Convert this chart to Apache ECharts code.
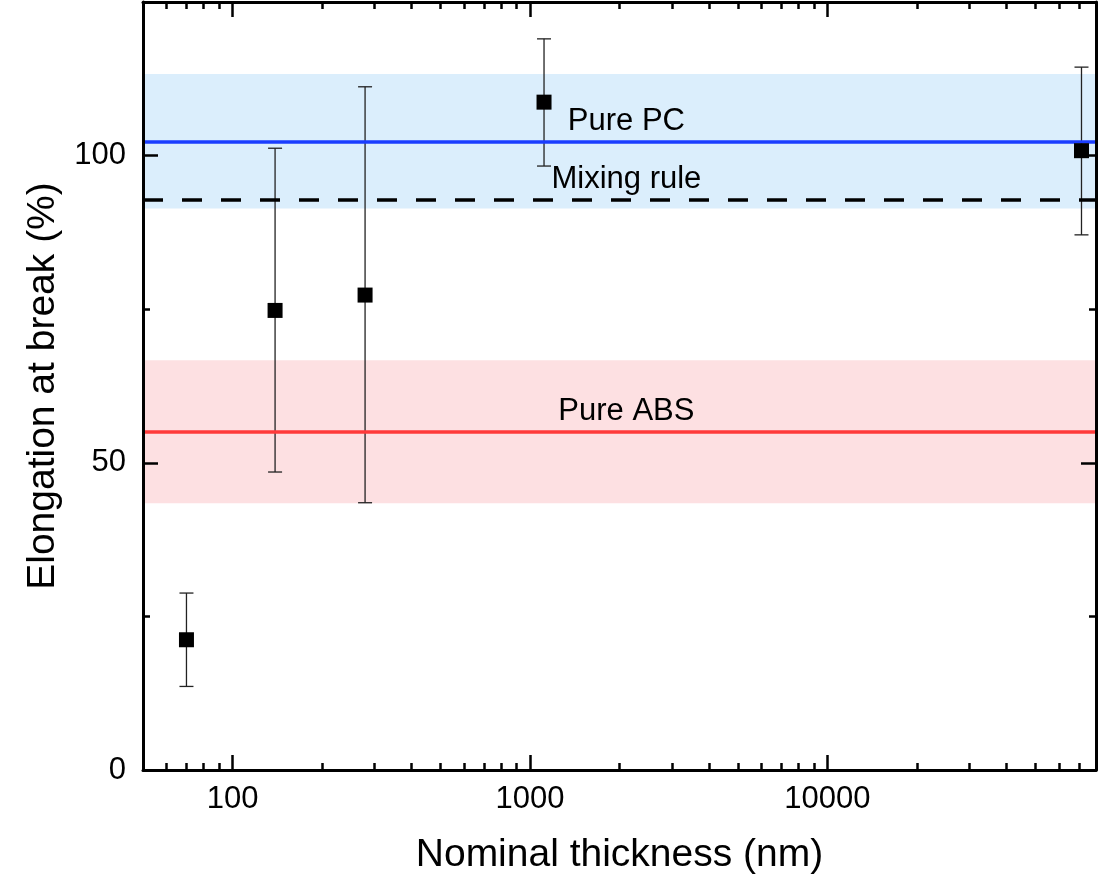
<!DOCTYPE html>
<html><head><meta charset="utf-8">
<script src="https://cdn.jsdelivr.net/npm/echarts@6/dist/echarts.min.js"></script>
<style>html,body{margin:0;padding:0;background:#fff}#c{width:1115px;height:887px}</style>
</head><body><div id="c"></div>
<script>
// ---- data ----
const thickness  = [70, 139, 279, 1115, 71500];       // nm
const elongation = [21.2, 74.8, 77.3, 108.7, 100.8];  // %
const errLow     = [13.6, 48.5, 43.5, 98.3, 87.1];
const errHigh    = [28.8, 101.2, 111.2, 119.0, 114.4];
const pcMean = 102.2;
const pcBand = [91.4, 113.3];
const absMean = 55.0;
const absBand = [43.4, 66.7];
const mixingRule = 92.8;
const annotationText = ['Pure PC', 'Mixing rule', 'Pure ABS'];
const annotationX    = [2110, 2110, 2110];
const annotationY    = [105.6, 96.1, 58.4];
const xRange = [50, 80000];
const yRange = [0, 125];
const xMajorTicks = [100, 1000, 10000];
const xMinorTicks = [60, 70, 80, 90, 200, 300, 400, 500, 600, 700, 800, 900,
                     2000, 3000, 4000, 5000, 6000, 7000, 8000, 9000,
                     20000, 30000, 40000, 50000, 60000, 70000];
const yMajorTicks = [0, 50, 100];
const yMinorTicks = [25, 75, 125];

// ---- styling ----
const FONT = '"Liberation Sans", Arial, Helvetica, sans-serif';
const lg = Math.log10;
const AX = {color: '#000', width: 3};

function xAxisDef(pos, ticks, len, main, labels) {
  return {
    type: 'value', position: pos, min: lg(xRange[0]), max: lg(xRange[1]), z: 10,
    axisLine: {show: main, onZero: false, lineStyle: AX},
    axisTick: {show: true, inside: true, length: len, customValues: ticks.map(lg),
               lineStyle: {color: '#000', width: 2.5}},
    axisLabel: labels ? {show: true, customValues: ticks.map(lg), margin: 14,
               fontSize: 31, fontFamily: FONT, color: '#000',
               formatter: v => String(Math.round(Math.pow(10, v)))} : {show: false},
    splitLine: {show: false},
    name: labels ? 'Nominal thickness (nm)' : '',
    nameLocation: 'middle', nameGap: 66,
    nameTextStyle: {fontSize: 39, fontFamily: FONT, color: '#000'}
  };
}
function yAxisDef(pos, ticks, len, main, labels) {
  return {
    type: 'value', position: pos, min: yRange[0], max: yRange[1], z: 10,
    axisLine: {show: main, onZero: false, lineStyle: AX},
    axisTick: {show: true, inside: true, length: len, customValues: ticks,
               lineStyle: {color: '#000', width: 2.5}},
    axisLabel: labels ? {show: true, customValues: ticks, margin: 17,
               fontSize: 31, fontFamily: FONT, color: '#000'} : {show: false},
    splitLine: {show: false},
    name: labels ? 'Elongation at break (%)' : '',
    nameLocation: 'middle', nameGap: 80, nameRotate: 90,
    nameTextStyle: {fontSize: 39, fontFamily: FONT, color: '#000'}
  };
}

function refLine(value, color, type) {
  return {
    type: 'line', data: [], xAxisIndex: 0, yAxisIndex: 0, z: 2, silent: true,
    markLine: {
      silent: true, symbol: ['none', 'none'], label: {show: false},
      lineStyle: {color: color, width: 3.5, type: type, opacity: 1},
      emphasis: {disabled: true},
      data: [{yAxis: value}]
    }
  };
}

const chart = echarts.init(document.getElementById('c'), null, {renderer: 'canvas'});
chart.setOption({
  backgroundColor: '#fff',
  animation: false,
  grid: {left: 143, right: 19, top: 2, bottom: 117, containLabel: false},
  xAxis: [
    xAxisDef('bottom', xMajorTicks, 15, true, true),
    xAxisDef('bottom', xMinorTicks, 7, false, false),
    xAxisDef('top', xMajorTicks, 15, true, false),
    xAxisDef('top', xMinorTicks, 7, false, false)
  ],
  yAxis: [
    yAxisDef('left', yMajorTicks, 15, true, true),
    yAxisDef('left', yMinorTicks, 7, false, false),
    yAxisDef('right', yMajorTicks, 15, true, false),
    yAxisDef('right', yMinorTicks, 7, false, false)
  ],
  series: [
    {
      type: 'line', data: [], xAxisIndex: 0, yAxisIndex: 0, z: 1, silent: true,
      markArea: {
        silent: true,
        data: [
          [{yAxis: pcBand[0], itemStyle: {color: '#dbeefc', opacity: 1}}, {yAxis: pcBand[1]}],
          [{yAxis: absBand[0], itemStyle: {color: '#fde0e2', opacity: 1}}, {yAxis: absBand[1]}]
        ]
      }
    },
    refLine(pcMean, '#1a3dff', 'solid'),
    refLine(absMean, '#ff3a3a', 'solid'),
    refLine(mixingRule, '#000', [20, 19]),
    {
      type: 'custom', xAxisIndex: 0, yAxisIndex: 0, z: 3, silent: true,
      data: annotationText.map((t, i) => [lg(annotationX[i]), annotationY[i]]),
      renderItem: function (params, api) {
        const p = api.coord([api.value(0), api.value(1)]);
        return {type: 'text', x: p[0], y: p[1],
          style: {text: annotationText[params.dataIndex], fill: '#000',
                  fontSize: 31, fontFamily: FONT, align: 'center', verticalAlign: 'middle'}};
      }
    },
    {
      type: 'custom', xAxisIndex: 0, yAxisIndex: 0, z: 4, silent: true,
      data: thickness.map((t, i) => [lg(t), errLow[i], errHigh[i]]),
      encode: {x: 0, y: [1, 2]},
      renderItem: function (params, api) {
        const x = api.value(0);
        const p1 = api.coord([x, api.value(1)]);
        const p2 = api.coord([x, api.value(2)]);
        const hw = 7;
        const st = {stroke: '#222', lineWidth: 1.3};
        return {type: 'group', children: [
          {type: 'line', shape: {x1: p1[0], y1: p1[1], x2: p2[0], y2: p2[1]}, style: st},
          {type: 'line', shape: {x1: p1[0] - hw, y1: p1[1], x2: p1[0] + hw, y2: p1[1]}, style: st},
          {type: 'line', shape: {x1: p2[0] - hw, y1: p2[1], x2: p2[0] + hw, y2: p2[1]}, style: st}
        ]};
      }
    },
    {
      type: 'scatter', xAxisIndex: 0, yAxisIndex: 0, z: 5, silent: true,
      symbol: 'rect', symbolSize: 15,
      itemStyle: {color: '#000', opacity: 1},
      data: thickness.map((t, i) => [lg(t), elongation[i]])
    }
  ]
});
</script></body></html>
